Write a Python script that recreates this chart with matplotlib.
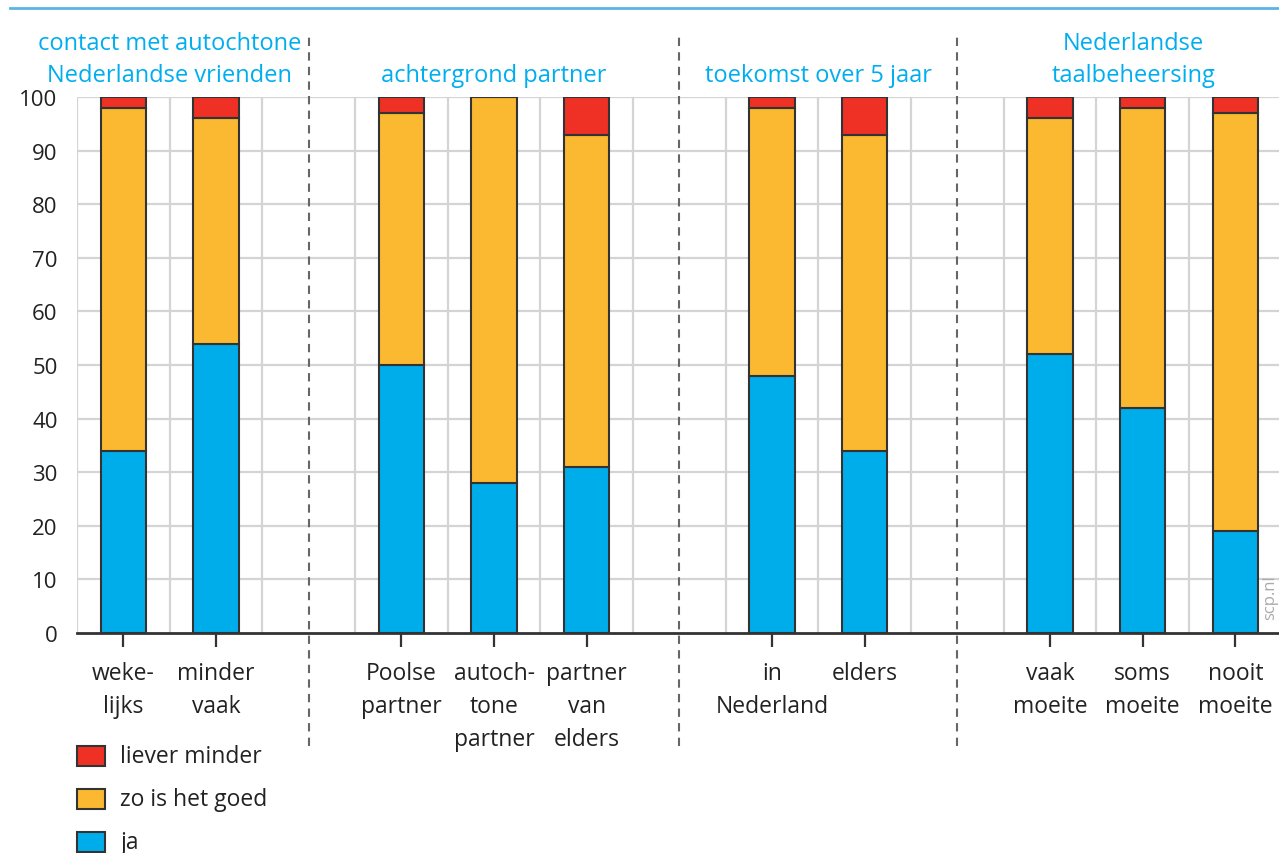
import matplotlib
matplotlib.use("Agg")
import matplotlib.pyplot as plt
import numpy as np

# data
labels = ["weke-\nlijks", "minder\nvaak", "Poolse\npartner", "autoch-\ntone\npartner",
          "partner\nvan\nelders", "in\nNederland", "elders",
          "vaak\nmoeite", "soms\nmoeite", "nooit\nmoeite"]
slots = [0, 1, 3, 4, 5, 7, 8, 10, 11, 12]
ja = [34, 54, 50, 28, 31, 48, 34, 52, 42, 19]
goed = [64, 42, 47, 72, 62, 50, 59, 44, 56, 78]
minder = [2, 4, 3, 0, 7, 2, 7, 4, 2, 3]
groups = ["contact met autochtone\nNederlandse vrienden", "achtergrond partner",
          "toekomst over 5 jaar", "Nederlandse\ntaalbeheersing"]
group_x = [0.5, 4, 7.5, 10.9]
dividers = [2, 6, 9]

c_ja = "#00adeb"
c_goed = "#fbb931"
c_minder = "#ee3124"
title_col = "#00aeef"
dark = "#333333"
grid_col = "#d4d4d4"

plt.rcParams["font.family"] = ["Open Sans", "DejaVu Sans"]

fig = plt.figure(figsize=(12.79, 8.54), dpi=100)
W, H = 1279, 854
ax = fig.add_axes([77 / W, 1 - 634 / H, (W - 77) / W, (634 - 98) / H])

x = np.array(slots)
bw = 0.49
ax.bar(x, ja, bw, color=c_ja, edgecolor=dark, linewidth=1.5, zorder=3)
ax.bar(x, goed, bw, bottom=ja, color=c_goed, edgecolor=dark, linewidth=1.5, zorder=3)
bottom2 = np.array(ja) + np.array(goed)
ax.bar(x, minder, bw, bottom=bottom2, color=c_minder, edgecolor=dark, linewidth=1.5, zorder=3)

ax.set_xlim(-0.5, (W - 123) / 92.7)
ax.set_ylim(0, 100)

# grid
for yv in range(10, 101, 10):
    ax.axhline(yv, color=grid_col, lw=1.6, zorder=1)
for xv in np.arange(-0.5, 12.6, 1.0):
    ax.axvline(xv, color=grid_col, lw=1.6, zorder=1)

for s in ["top", "right", "left"]:
    ax.spines[s].set_visible(False)
ax.spines["bottom"].set_color(dark)
ax.spines["bottom"].set_linewidth(2)
ax.spines["bottom"].set_zorder(4)

ax.set_yticks(range(0, 101, 10))
ax.tick_params(axis="y", length=0, pad=14, labelsize=16, colors="#222222")
ax.set_xticks(x)
ax.set_xticklabels(labels, fontsize=16.5, color="#222222", linespacing=1.5)
ax.tick_params(axis="x", length=10, width=1.6, color=dark, pad=10, direction="out")

# dashed dividers, spanning beyond the axes
for d in dividers:
    ax.plot([d, d], [-21, 112], ls=(0, (4, 3)), color="#666666", lw=1.5,
            clip_on=False, zorder=2)

for gx, gt in zip(group_x, groups):
    ax.text(gx, 101.8, gt, ha="center", va="bottom", fontsize=17,
            color=title_col, linespacing=1.45)

# top rule
fig.add_artist(plt.Line2D([10 / W, 1], [1 - 9 / H, 1 - 9 / H], color="#5ab4e5", lw=2))

# legend
leg = [("liever minder", c_minder), ("zo is het goed", c_goed), ("ja", c_ja)]
for i, (name, col) in enumerate(leg):
    yc = 757 + i * 43
    fig.patches.append(plt.Rectangle((77 / W, 1 - (yc + 10) / H), 28 / W, 20 / H,
                                     facecolor=col, edgecolor=dark, lw=1.5,
                                     transform=fig.transFigure, figure=fig))
    fig.text(120 / W, 1 - yc / H, name, fontsize=16.5, color="#222222", va="center")

fig.text(1270 / W, 1 - 598 / H, "scp.nl", rotation=90, fontsize=12,
         color="#aaaaaa", ha="center", va="center")

fig.savefig("out.png", dpi=100)
